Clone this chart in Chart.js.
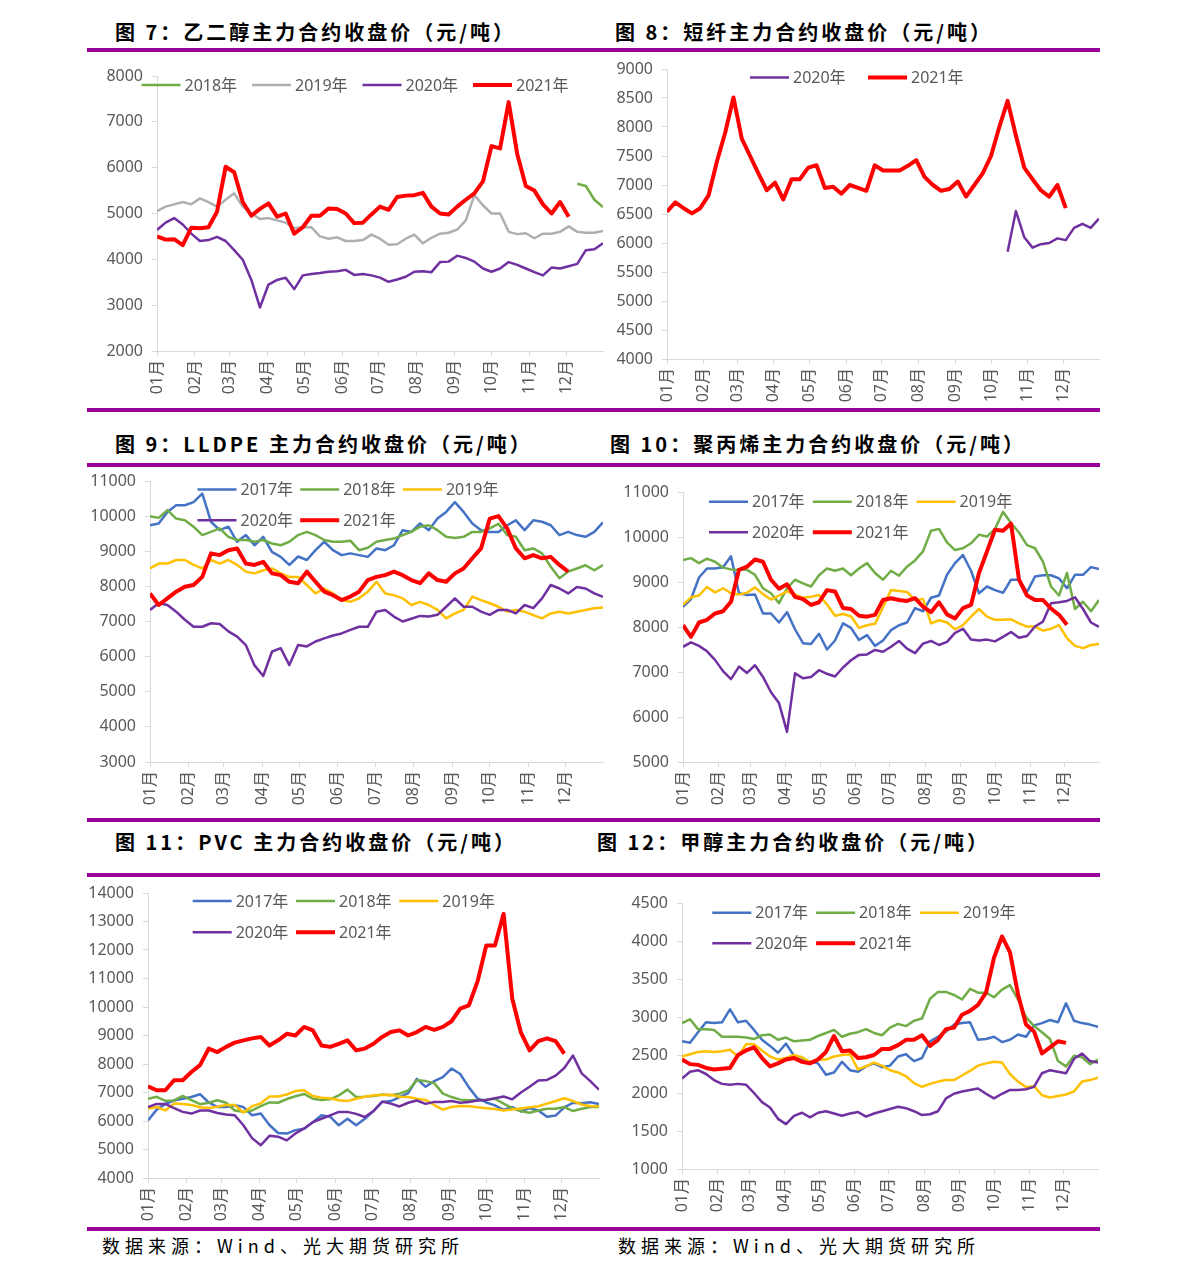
<!DOCTYPE html>
<html>
<head>
<meta charset="utf-8">
<script src="https://cdn.jsdelivr.net/npm/chart.js@4.4.1/dist/chart.umd.min.js"></script>
<style>
  body { margin: 0; background: #fff; width: 1191px; height: 1279px; position: relative; overflow: hidden;
         font-family: "Noto Sans CJK SC", sans-serif; }
  .rule { position: absolute; left: 87px; width: 1013px; height: 4px; background: #990099; }
  .title { position: absolute; font-weight: bold; font-size: 20px; letter-spacing: 3px; line-height: 24px;
           color: #000; white-space: nowrap; }
  .src { position: absolute; font-size: 18px; letter-spacing: 5px; line-height: 22px; color: #000; white-space: nowrap; }
  canvas { position: absolute; }
</style>
</head>
<body>
<div class="rule" style="top:48px"></div>
<div class="rule" style="top:408px"></div>
<div class="rule" style="top:463px"></div>
<div class="rule" style="top:818px"></div>
<div class="rule" style="top:873px"></div>
<div class="rule" style="top:1227px"></div>

<div class="title" style="left:115px;top:20px">图 7：乙二醇主力合约收盘价（元/吨）</div>
<div class="title" style="left:615px;top:20px">图 8：短纤主力合约收盘价（元/吨）</div>
<div class="title" style="left:115px;top:432px">图 9：LLDPE 主力合约收盘价（元/吨）</div>
<div class="title" style="left:610px;top:432px">图 10：聚丙烯主力合约收盘价（元/吨）</div>
<div class="title" style="left:115px;top:830px">图 11：PVC 主力合约收盘价（元/吨）</div>
<div class="title" style="left:597px;top:830px">图 12：甲醇主力合约收盘价（元/吨）</div>

<div class="src" style="left:102px;top:1234px">数据来源：Wind、光大期货研究所</div>
<div class="src" style="left:618px;top:1234px">数据来源：Wind、光大期货研究所</div>

<script>
// x positions: day of year, one reading per week
const days = [0,7,14,21,28,35,42,49,56,63,70,77,84,91,98,105,112,119,126,133,140,147,154,161,168,175,
  182,189,196,203,210,217,224,231,238,245,252,259,266,273,280,287,294,301,308,315,322,329,336,343,350,357,364];
const monthStarts = [0,31,59,90,120,151,181,212,243,273,304,334];
const monthLabels = ['01月','02月','03月','04月','05月','06月','07月','08月','09月','10月','11月','12月'];

// 图7 乙二醇
const meg2018 = [5650,5600,5300,5140];   // starts at week 49
const meg2019 = [5050,5150,5200,5250,5200,5330,5250,5150,5300,5440,5150,5000,4880,4900,4850,4800,4680,4700,4700,4500,
  4450,4480,4400,4400,4420,4540,4450,4320,4330,4450,4540,4350,4470,4560,4580,4650,4850,5400,5180,5000,
  5000,4600,4550,4570,4460,4560,4560,4600,4720,4600,4580,4580,4620];
const meg2020 = [4640,4800,4900,4760,4560,4400,4420,4490,4400,4200,3990,3550,2950,3450,3550,3600,3350,3650,3680,3700,
  3730,3740,3770,3660,3680,3650,3600,3510,3560,3620,3730,3740,3720,3940,3950,4080,4030,3950,3800,3730,
  3800,3940,3880,3800,3720,3650,3820,3800,3850,3900,4200,4220,4350];
const meg2021 = [4500,4430,4440,4310,4690,4680,4700,5040,6020,5900,5250,4950,5100,5220,4930,5000,4560,4700,4950,4950,
  5110,5100,5000,4790,4800,4980,5150,5080,5360,5390,5400,5450,5150,5000,4980,5150,5300,5440,5700,6470,
  6420,7430,6300,5600,5500,5200,5000,5250,4930];

// 图8 短纤
const psf2020 = [5850,6550,6100,5920,5980,6000,6080,6050,6260,6330,6260,6420];   // starts at week 41
const psf2021 = [6540,6700,6600,6510,6600,6820,7400,7900,8510,7800,7500,7200,6910,7040,6750,7100,7100,7300,7340,6950,
  6970,6850,7000,6950,6900,7340,7250,7250,7250,7330,7430,7140,7000,6900,6930,7060,6800,7000,7200,7500,
  8000,8450,7850,7300,7100,6910,6800,7000,6600];

// 图9 LLDPE
const lldpe2017 = [9740,9790,10120,10310,10310,10400,10640,9840,9600,9700,9270,9460,9170,9410,8980,8840,8610,8850,8750,9030,
  9270,9030,8890,8940,8890,8840,9080,9030,9170,9600,9550,9790,9600,9930,10120,10400,10120,9790,9600,9550,
  9550,9740,9880,9600,9880,9840,9740,9460,9550,9460,9410,9550,9820];
const lldpe2018 = [10000,9950,10170,9930,9880,9700,9460,9550,9650,9410,9320,9320,9270,9320,9220,9170,9270,9460,9550,9460,
  9320,9270,9270,9300,9030,9100,9270,9320,9360,9460,9550,9700,9740,9600,9410,9380,9410,9550,9550,9650,
  9780,9460,9410,9030,9080,8940,8560,8230,8420,8510,8600,8460,8610];
const lldpe2019 = [8510,8650,8650,8750,8750,8610,8510,8750,8650,8750,8610,8420,8370,8460,8510,8370,8270,8270,8040,7800,
  7940,7800,7610,7560,7660,7850,8130,7800,7750,7660,7470,7560,7470,7330,7090,7230,7330,7710,7610,7520,
  7420,7280,7330,7280,7180,7090,7230,7280,7230,7280,7330,7380,7400];
const lldpe2020 = [7330,7520,7470,7280,7050,6850,6850,6950,6930,6720,6570,6330,5750,5450,6140,6240,5760,6330,6290,6430,
  6520,6600,6660,6760,6850,6850,7280,7330,7140,7000,7080,7160,7140,7190,7420,7660,7420,7420,7280,7190,
  7330,7330,7230,7470,7380,7660,8040,7940,7800,7980,7940,7800,7700];
const lldpe2021 = [7800,7470,7660,7850,7990,8040,8270,8940,8890,9030,9080,8650,8610,8700,8370,8320,8130,8090,8420,8130,
  7850,7750,7610,7710,7850,8180,8270,8320,8420,8320,8180,8090,8370,8180,8130,8370,8510,8800,9080,9930,
  10000,9650,9080,8800,8890,8800,8840,8610,8420];

// 图10 聚丙烯
const pp2017 = [8450,8620,9100,9300,9300,9330,9570,8750,8710,8720,8300,8300,8100,8330,7950,7640,7620,7850,7500,7700,
  8080,7980,7710,7820,7580,7700,7930,8040,8100,8420,8350,8650,8700,9160,9420,9600,9250,8750,8900,8820,
  8760,9050,9050,8780,9120,9150,9150,9080,8860,9160,9160,9330,9290];
const pp2018 = [9490,9530,9420,9520,9450,9320,9280,9270,9270,9160,8860,8750,8530,8860,9050,8970,8900,9150,9300,9250,
  9300,9150,9300,9420,9200,9050,9250,9140,9340,9480,9680,10140,10180,9880,9710,9750,9860,10050,10010,10180,
  10560,10310,10100,9820,9750,9450,8900,8700,9200,8400,8560,8350,8600];
const pp2019 = [8490,8660,8700,8890,8770,8860,8750,8720,8760,8880,8730,8610,8700,8790,8720,8650,8670,8710,8500,8250,
  8290,8240,7980,8040,8070,8440,8820,8800,8780,8600,8620,8080,8150,8100,7950,8040,8230,8400,8230,8160,
  8160,8170,8080,8010,8010,7920,7960,8040,7750,7580,7530,7600,7620];
const pp2020 = [7560,7660,7580,7460,7270,7020,6840,7120,6980,7150,6890,6550,6310,5670,6970,6860,6890,7040,6960,6900,
  7100,7260,7380,7390,7490,7450,7560,7690,7520,7420,7630,7690,7600,7670,7870,7960,7720,7700,7720,7680,
  7780,7890,7760,7800,8010,8120,8530,8550,8580,8660,8400,8100,8000];
const pp2021 = [8040,7780,8100,8160,8300,8350,8560,9270,9340,9500,9450,9050,8850,8950,8670,8620,8490,8550,8820,8790,
  8420,8400,8250,8230,8270,8600,8640,8600,8580,8640,8450,8330,8550,8280,8190,8420,8490,9200,9680,10160,
  10140,10300,9050,8700,8600,8600,8410,8270,8050];

// 图11 PVC
const pvc2017 = [6020,6400,6600,6720,6780,6840,6940,6650,6490,6490,6550,6490,6200,6260,5860,5580,5560,5680,5730,5960,
  6200,6150,5850,6080,5850,6080,6350,6670,6700,6840,6980,7480,7200,7400,7540,7840,7650,7180,6790,6650,
  6550,6390,6490,6340,6450,6370,6150,6190,6480,6640,6620,6660,6600];
const pvc2018 = [6780,6850,6710,6720,6880,6730,6590,6640,6730,6640,6370,6320,6370,6520,6650,6640,6770,6870,6950,6780,
  6740,6760,6900,7100,6840,6850,6880,6930,6900,6960,7070,7430,7400,7330,6960,6840,6750,6730,6730,6750,
  6780,6610,6450,6340,6290,6370,6430,6430,6490,6350,6430,6490,6490];
const pvc2019 = [6430,6490,6370,6610,6600,6560,6480,6460,6500,6560,6560,6300,6520,6620,6860,6860,6930,7050,7080,6880,
  6820,6800,6730,6700,6780,6850,6900,6910,6920,6850,6840,6780,6740,6560,6400,6490,6530,6520,6480,6450,
  6420,6370,6400,6440,6480,6520,6610,6700,6800,6700,6580,6530,6520];
const pvc2020 = [6490,6600,6600,6450,6320,6260,6370,6370,6280,6230,6200,5850,5400,5150,5480,5450,5320,5560,5740,5960,
  6080,6200,6320,6320,6250,6140,6350,6680,6610,6510,6640,6720,6600,6670,6670,6700,6640,6670,6720,6740,
  6800,6860,6760,7000,7200,7420,7440,7590,7860,8300,7670,7400,7100];
const pvc2021 = [7220,7080,7080,7430,7430,7720,7960,8540,8420,8600,8750,8830,8900,8950,8650,8830,9060,9000,9300,9180,
  8650,8600,8710,8830,8480,8540,8710,8950,9120,9180,9000,9120,9300,9200,9300,9500,9940,10060,10900,12160,
  12160,13270,10290,9100,8480,8800,8900,8800,8360];

// 图12 甲醇
const meoh2017 = [2680,2660,2800,2930,2920,2930,3100,2930,2950,2830,2700,2620,2530,2650,2490,2430,2410,2390,2240,2270,
  2410,2300,2280,2350,2390,2340,2360,2480,2510,2420,2460,2680,2740,2810,2900,2920,2930,2700,2710,2740,
  2670,2700,2770,2740,2890,2920,2960,2930,3180,2950,2920,2900,2870];
const meoh2018 = [2920,2970,2840,2840,2830,2740,2740,2740,2730,2710,2760,2770,2700,2730,2680,2690,2700,2750,2790,2830,
  2740,2780,2800,2840,2790,2760,2860,2910,2880,2950,2980,3240,3330,3330,3290,3230,3370,3320,3320,3260,
  3360,3420,3230,3000,2880,2800,2710,2420,2350,2490,2470,2380,2440];
const meoh2019 = [2480,2510,2540,2550,2540,2550,2570,2480,2640,2640,2560,2480,2440,2460,2500,2470,2410,2440,2440,2480,
  2500,2510,2310,2350,2400,2360,2300,2270,2220,2130,2080,2120,2150,2170,2170,2230,2290,2360,2390,2410,
  2400,2250,2150,2080,2090,1970,1940,1960,1980,2020,2150,2170,2200];
const meoh2020 = [2190,2280,2300,2250,2170,2120,2110,2120,2110,2000,1880,1810,1660,1590,1700,1740,1680,1740,1760,1730,
  1700,1730,1750,1690,1730,1760,1790,1820,1800,1760,1710,1720,1760,1930,1990,2020,2040,2060,1990,1930,
  1990,2040,2040,2050,2080,2260,2300,2280,2260,2450,2520,2420,2400];
const meoh2021 = [2440,2380,2370,2330,2310,2320,2330,2500,2560,2600,2460,2350,2390,2440,2460,2410,2390,2440,2540,2750,
  2550,2560,2460,2470,2500,2580,2580,2630,2700,2700,2760,2620,2700,2840,2860,3030,3080,3160,3320,3780,
  4060,3850,3300,2900,2810,2520,2600,2680,2660];

const BLUE = '#4472C4', GREEN = '#70AD47', YELLOW = '#FFC000', PURPLE = '#7030A0', RED = '#FF0000', GRAY = '#AFAFAF';
const TEXT = '#595959', AXIS = '#D9D9D9';
const FONT = '"Noto Sans", "Noto Sans CJK SC", sans-serif';

Chart.defaults.font.family = FONT;

function line(label, color, values, from) {
  from = from || 0;
  return {
    label: label,
    data: values.map((v, i) => ({ x: days[from + i], y: v })),
    borderColor: color,
    backgroundColor: color,
    borderWidth: label === '2021年' ? 4 : 2.5,
    borderJoinStyle: 'round',
    pointRadius: 0,
    tension: 0,
    fill: false
  };
}

// legend drawn inside the plot like the Excel original
const yearLegend = {
  id: 'yearLegend',
  afterDraw(chart, args, o) {
    const ctx = chart.ctx;
    ctx.save();
    ctx.font = '16px ' + FONT;
    ctx.textBaseline = 'middle';
    ctx.fillStyle = TEXT;
    chart.data.datasets.forEach((ds, i) => {
      const x = o.x + (i % o.perRow) * o.pitch;
      const y = o.y + Math.floor(i / o.perRow) * o.rowGap;
      ctx.strokeStyle = ds.borderColor;
      ctx.lineWidth = ds.borderWidth;
      ctx.beginPath();
      ctx.moveTo(x, y);
      ctx.lineTo(x + 39, y);
      ctx.stroke();
      ctx.fillText(ds.label, x + 43, y + 1);
    });
    ctx.restore();
  }
};

const panels = [
  { area: [157, 76, 603, 351], y: [2000, 8000, 1000], legend: [141.5, 85, 110.5, 4, 0],
    series: [line('2018年', GREEN, meg2018, 49), line('2019年', GRAY, meg2019), line('2020年', PURPLE, meg2020), line('2021年', RED, meg2021)] },
  { area: [667, 69, 1099, 359], y: [4000, 9000, 500], legend: [750, 77.5, 118, 2, 0],
    series: [line('2020年', PURPLE, psf2020, 41), line('2021年', RED, psf2021)] },
  { area: [150, 481, 603, 762], y: [3000, 11000, 1000], legend: [197.5, 489.5, 102.7, 3, 30.7],
    series: [line('2017年', BLUE, lldpe2017), line('2018年', GREEN, lldpe2018), line('2019年', YELLOW, lldpe2019),
             line('2020年', PURPLE, lldpe2020), line('2021年', RED, lldpe2021)] },
  { area: [683, 492, 1099, 762], y: [5000, 11000, 1000], legend: [709, 501.7, 103.8, 3, 30.6],
    series: [line('2017年', BLUE, pp2017), line('2018年', GREEN, pp2018), line('2019年', YELLOW, pp2019),
             line('2020年', PURPLE, pp2020), line('2021年', RED, pp2021)] },
  { area: [148, 893, 599, 1178], y: [4000, 14000, 1000], legend: [192.7, 901, 103.3, 3, 31.3],
    series: [line('2017年', BLUE, pvc2017), line('2018年', GREEN, pvc2018), line('2019年', YELLOW, pvc2019),
             line('2020年', PURPLE, pvc2020), line('2021年', RED, pvc2021)] },
  { area: [682, 903, 1098, 1169], y: [1000, 4500, 500], legend: [712.3, 912.7, 103.8, 3, 30.6],
    series: [line('2017年', BLUE, meoh2017), line('2018年', GREEN, meoh2018), line('2019年', YELLOW, meoh2019),
             line('2020年', PURPLE, meoh2020), line('2021年', RED, meoh2021)] }
];

const YW = 80, XH = 60, PAD = 20;   // y-axis width, x-axis height, top/right padding

panels.forEach(p => {
  const [l, t, r, b] = p.area;
  const left = l - YW, top = t - PAD;
  const cv = document.createElement('canvas');
  cv.width = r - l + YW + PAD;
  cv.height = b - t + PAD + XH;
  cv.style.left = left + 'px';
  cv.style.top = top + 'px';
  document.body.appendChild(cv);

  const ds = p.series;
  ds.forEach((d, i) => { d.order = ds.length - i; });   // 2021 drawn on top

  new Chart(cv, {
    type: 'line',
    data: { datasets: ds },
    plugins: [yearLegend],
    options: {
      responsive: false,
      animation: false,
      devicePixelRatio: 1,
      layout: { padding: { top: PAD, right: PAD, left: 0, bottom: 0 } },
      plugins: {
        legend: { display: false },
        tooltip: { enabled: false },
        yearLegend: { x: p.legend[0] - left, y: p.legend[1] - top, pitch: p.legend[2], perRow: p.legend[3], rowGap: p.legend[4] }
      },
      scales: {
        x: {
          type: 'linear', min: 0, max: 364,
          afterBuildTicks: s => { s.ticks = monthStarts.map(v => ({ value: v })); },
          afterFit: s => { s.height = XH; },
          grid: { drawOnChartArea: false, tickLength: 5, color: AXIS },
          border: { color: AXIS },
          ticks: { autoSkip: false, minRotation: 90, maxRotation: 90, padding: 4, color: TEXT,
                   font: { size: 16 }, callback: (v, i) => monthLabels[i] }
        },
        y: {
          min: p.y[0], max: p.y[1],
          afterFit: s => { s.width = YW; },
          grid: { drawOnChartArea: false, tickLength: 5, color: AXIS },
          border: { color: AXIS },
          ticks: { stepSize: p.y[2], padding: 9, color: TEXT, font: { size: 16 }, callback: v => String(v) }
        }
      }
    }
  });
});
</script>
</body>
</html>
